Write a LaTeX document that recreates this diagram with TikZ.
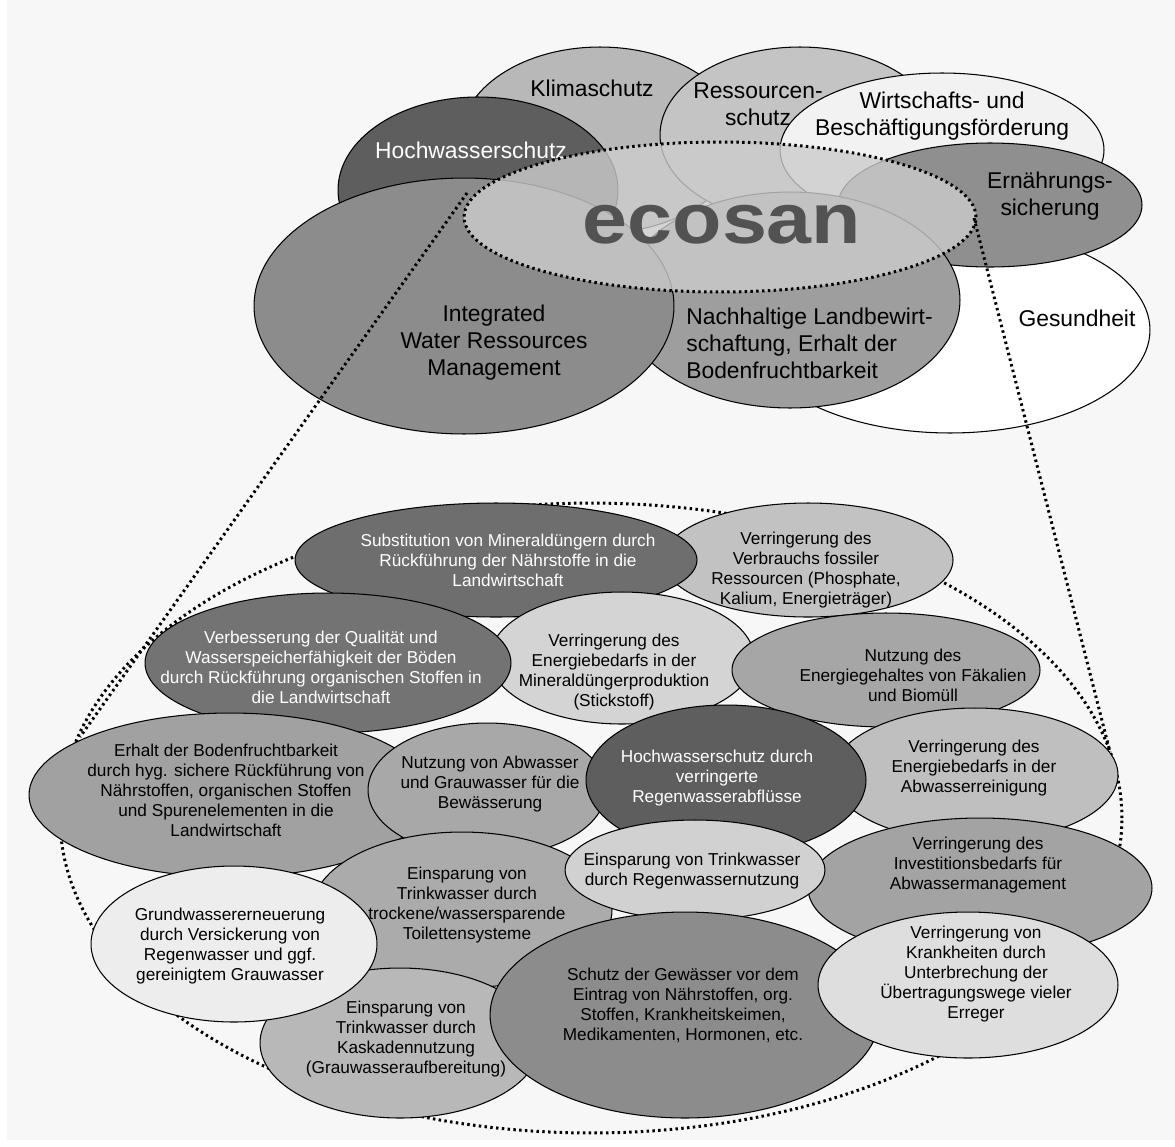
\documentclass[tikz,border=0pt]{standalone}
\usepackage{fontspec}
\setmainfont{Liberation Sans}
\usetikzlibrary{shapes.geometric}
\begin{document}
\begin{tikzpicture}[x=0.02cm,y=-0.02cm,
  el/.style={ellipse, draw=black, line width=0.6pt, inner sep=0pt, outer sep=0pt},
  tt/.style={align=center, font=\fontsize{13}{15.4}\selectfont, inner sep=0pt},
  lt/.style={align=center, font=\fontsize{9.8}{11.4}\selectfont, inner sep=0pt},
  dots/.style={line width=1.7pt, dash pattern=on 1.4pt off 1.9pt},
  wt/.style={text=white}]
\path[use as bounding box, fill=white] (0,0) rectangle (1175,1146);
\fill[black!3] (7,0) rectangle (1175,1140);

% ---------- upper cluster ----------
\node[el, minimum width=5.6cm, minimum height=3.72cm, fill=black!28] (klima) at (600,140) {};
\node[tt] (klimat) at (592,88) {Klimaschutz};
\node[el, minimum width=5.6cm, minimum height=3.52cm, fill=black!23] (ress) at (800,135) {};
\node[tt] (resst) at (758,104) {Ressourcen-\\schutz};
\node[el, minimum width=6.48cm, minimum height=3.08cm, fill=black!5] (wirt) at (942,150) {};
\node[tt] (wirtt) at (942,116) {Wirtschafts- und\\Beschäftigungsförderung};
\node[el, minimum width=8cm, minimum height=4.12cm, fill=white] (ges) at (950,330) {};
\node[tt] (gest) at (1077,318) {Gesundheit};
\node[el, minimum width=6.08cm, minimum height=2.48cm, fill=black!44] (ern) at (990,205) {};
\node[tt] (ernt) at (1050,196) {Ernährungs-\\sicherung};
\node[el, minimum width=5.6cm, minimum height=3.72cm, fill=black!63] (hoch) at (478,190) {};
\node[tt, wt] (hocht) at (471,150) {Hochwasserschutz};
\node[el, minimum width=6.8cm, minimum height=4.32cm, fill=black!38] (nach) at (790,300) {};
\node[tt, align=left, anchor=west] (nacht) at (686,343) {Nachhaltige Landbewirt-\\schaftung, Erhalt der\\Bodenfruchtbarkeit};
\node[el, minimum width=8.4cm, minimum height=5.12cm, fill=black!45] (iwrm) at (464,306) {};
\node[tt] (iwrmt) at (494,343) {Integrated\\Water Ressources\\Management};
\node[el, dots, minimum width=10.24cm, minimum height=3cm, fill=black!20, fill opacity=0.8] (eco) at (720,217) {};
\node[inner sep=0pt, text=black!68] (ecot) at (722,225) {\scalebox{1}[0.88]{\fontsize{46}{46}\selectfont\bfseries ecosan}};

% ---------- zoom lines ----------
\coordinate (l1) at (467,193);
\coordinate (l2) at (80,737);
\coordinate (r1) at (974,218);
\coordinate (r2) at (1110,752);
\draw[dots] (l1) -- (l2);
\draw[dots] (r1) -- (r2);
\node[ellipse, dots, draw=black, inner sep=0pt, minimum width=21.24cm, minimum height=12.6cm] (zoom) at (591,818) {};

% ---------- lower cluster ----------
\node[el, minimum width=5.8cm, minimum height=2.28cm, fill=black!24] (a2) at (808,560) {};
\node[lt] (a2t) at (806,570) {Verringerung des\\Verbrauchs fossiler\\Ressourcen (Phosphate,\\Kalium, Energieträger)};
\node[el, minimum width=8.04cm, minimum height=2.28cm, fill=black!57] (a1) at (496,560) {};
\node[lt, wt] (a1t) at (508,560) {Substitution von Mineraldüngern durch\\Rückführung der Nährstoffe in die\\Landwirtschaft};
\node[el, minimum width=5.28cm, minimum height=2.64cm, fill=black!17] (a4) at (622,658) {};
\node[lt] (a4t) at (614,672) {Verringerung des\\Energiebedarfs in der\\Mineraldüngerproduktion\\(Stickstoff)};
\node[el, minimum width=7.32cm, minimum height=2.8cm, fill=black!55] (a3) at (328,663) {};
\node[lt, wt] (a3t) at (321,667) {Verbesserung der Qualität und\\Wasserspeicherfähigkeit der Böden\\durch Rückführung organischen Stoffen in\\die Landwirtschaft};
\node[el, minimum width=6.16cm, minimum height=2.28cm, fill=black!35] (a5) at (886,670) {};
\node[lt] (a5t) at (913,675) {Nutzung des\\Energiegehaltes von Fäkalien\\und Biomüll};
\node[el, minimum width=8.04cm, minimum height=3.28cm, fill=black!37] (a6) at (230,795) {};
\node[lt] (a6t) at (226,790) {Erhalt der Bodenfruchtbarkeit\\durch hyg. sichere Rückführung von\\Nährstoffen, organischen Stoffen\\und Spurenelementen in die\\Landwirtschaft};
\node[el, minimum width=4.76cm, minimum height=2.68cm, fill=black!34] (a7) at (487,790) {};
\node[lt] (a7t) at (490,784) {Nutzung von Abwasser\\und Grauwasser für die\\Bewässerung};
\node[el, minimum width=5.72cm, minimum height=2.68cm, fill=black!25] (a9) at (975,775) {};
\node[lt] (a9t) at (974,768) {Verringerung des\\Energiebedarfs in der\\Abwasserreinigung};
\node[el, minimum width=5.6cm, minimum height=3cm, fill=black!63] (a8) at (726,780) {};
\node[lt, wt] (a8t) at (717,778) {Hochwasserschutz durch\\verringerte\\Regenwasserabflüsse};
\node[el, minimum width=6.88cm, minimum height=2.8cm, fill=black!36] (a10) at (980,888) {};
\node[lt] (a10t) at (978,865) {Verringerung des\\Investitionsbedarfs für\\Abwassermanagement};
\node[el, minimum width=6cm, minimum height=3.12cm, fill=black!33] (a12) at (462,910) {};
\node[lt] (a12t) at (467,905) {Einsparung von\\Trinkwasser durch\\trockene/wassersparende\\Toilettensysteme};
\node[el, minimum width=5.2cm, minimum height=2cm, fill=black!18] (a11) at (695,870) {};
\node[lt] (a11t) at (692,871) {Einsparung von Trinkwasser\\durch Regenwassernutzung};
\node[el, minimum width=5.6cm, minimum height=3cm, fill=black!28] (a14) at (400,1043) {};
\node[lt] (a14t) at (406,1039) {Einsparung von\\Trinkwasser durch\\Kaskadennutzung\\(Grauwasseraufbereitung)};
\node[el, minimum width=5.72cm, minimum height=3.12cm, fill=black!7] (a13) at (234,944) {};
\node[lt] (a13t) at (230,946) {Grundwassererneuerung\\durch Versickerung von\\Regenwasser und ggf.\\gereinigtem Grauwasser};
\node[el, minimum width=7.8cm, minimum height=4.12cm, fill=black!45] (a15) at (685,1015) {};
\node[lt] (a15t) at (683,1005) {Schutz der Gewässer vor dem\\Eintrag von Nährstoffen, org.\\Stoffen, Krankheitskeimen,\\Medikamenten, Hormonen, etc.};
\node[el, minimum width=6cm, minimum height=2.92cm, fill=black!13] (a16) at (968,985) {};
\node[lt] (a16t) at (976,974) {Verringerung von\\Krankheiten durch\\Unterbrechung der\\Übertragungswege vieler\\Erreger};
\end{tikzpicture}
\end{document}
